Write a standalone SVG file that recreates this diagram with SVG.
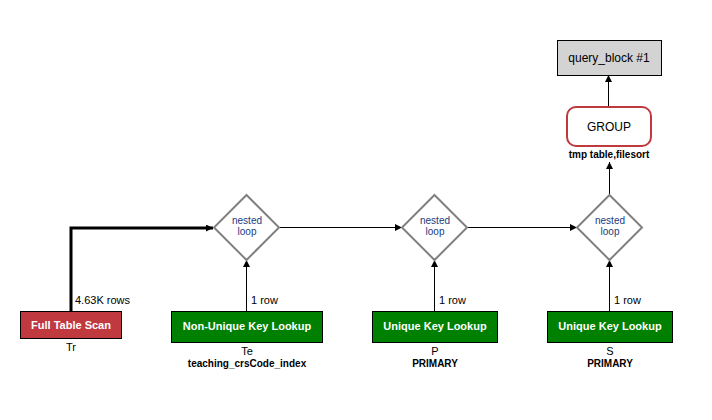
<svg xmlns="http://www.w3.org/2000/svg" width="712" height="420" viewBox="0 0 712 420">
<defs>
<marker id="ah" viewBox="0 0 10 10" refX="10" refY="5" markerWidth="10" markerHeight="7" markerUnits="userSpaceOnUse" orient="auto"><path d="M0,0 L10,5 L0,10 z" fill="#000"/></marker>
</defs>
<style>
text{font-family:"Liberation Sans",Arial,sans-serif;}
.op{fill:#fff;font-weight:bold;font-size:11px;text-anchor:middle;}
.lbl{fill:#000;font-size:11px;text-anchor:middle;}
.big{fill:#000;font-size:12px;text-anchor:middle;}
.blbl{fill:#000;font-size:10px;font-weight:bold;text-anchor:middle;}
.rows{fill:#000;font-size:11px;}
.dia{fill:#fff;stroke:#808080;stroke-width:2;}
.nl{fill:#1a3a80;font-size:10px;text-anchor:middle;}
.c{fill:none;stroke:#000;stroke-width:1;marker-end:url(#ah);}
</style>
<rect width="712" height="420" fill="#fff"/>
<g id="connectors">
<path class="c" d="M71,311 V228 H213" style="stroke-width:3"/>
<path class="c" d="M246.5,311 V260"/>
<path class="c" d="M279,227.5 H402"/>
<path class="c" d="M434.5,311 V260"/>
<path class="c" d="M467,227.5 H577"/>
<path class="c" d="M609.5,311 V260"/>
<path class="c" d="M609.5,195 V162"/>
<path class="c" d="M608.5,107 V75"/>
<text class="rows" x="75" y="304">4.63K rows</text>
<text class="rows" x="251" y="304">1 row</text>
<text class="rows" x="439" y="304">1 row</text>
<text class="rows" x="614" y="304">1 row</text>
</g>
<g id="fts">
<rect x="20.5" y="311.5" width="101" height="27" fill="#c0393f" stroke="#000"/>
<text class="op" x="71" y="329">Full Table Scan</text>
<text class="lbl" x="71" y="351">Tr</text>
</g>
<g id="te">
<rect x="171.5" y="311.5" width="151" height="31" fill="#008000" stroke="#000"/>
<text class="op" x="247" y="330">Non-Unique Key Lookup</text>
<text class="lbl" x="247" y="355">Te</text>
<text class="blbl" x="247" y="367">teaching_crsCode_index</text>
</g>
<g id="p">
<rect x="372.5" y="311.5" width="125" height="31" fill="#008000" stroke="#000"/>
<text class="op" x="435" y="330">Unique Key Lookup</text>
<text class="lbl" x="435" y="355">P</text>
<text class="blbl" x="435" y="367">PRIMARY</text>
</g>
<g id="s">
<rect x="547.5" y="311.5" width="125" height="31" fill="#008000" stroke="#000"/>
<text class="op" x="610" y="330">Unique Key Lookup</text>
<text class="lbl" x="610" y="355">S</text>
<text class="blbl" x="610" y="367">PRIMARY</text>
</g>
<g id="nl1">
<path class="dia" d="M246.5,195 L279,227.5 L246.5,260 L214,227.5 z"/>
<text class="nl" x="247" y="224">nested</text>
<text class="nl" x="247" y="235">loop</text>
</g>
<g id="nl2">
<path class="dia" d="M434.5,195 L467,227.5 L434.5,260 L402,227.5 z"/>
<text class="nl" x="435" y="224">nested</text>
<text class="nl" x="435" y="235">loop</text>
</g>
<g id="nl3">
<path class="dia" d="M609.5,195 L642,227.5 L609.5,260 L577,227.5 z"/>
<text class="nl" x="610" y="224">nested</text>
<text class="nl" x="610" y="235">loop</text>
</g>
<g id="group">
<rect x="567" y="107" width="84" height="39" rx="9" fill="#fff" stroke="#c0393f" stroke-width="2"/>
<text class="big" x="609" y="131">GROUP</text>
<text class="blbl" x="609" y="158">tmp table,filesort</text>
</g>
<g id="qb">
<rect x="557.5" y="40.5" width="104" height="35" fill="#d3d3d3" stroke="#000"/>
<text class="big" x="609" y="62">query_block #1</text>
</g>
</svg>
